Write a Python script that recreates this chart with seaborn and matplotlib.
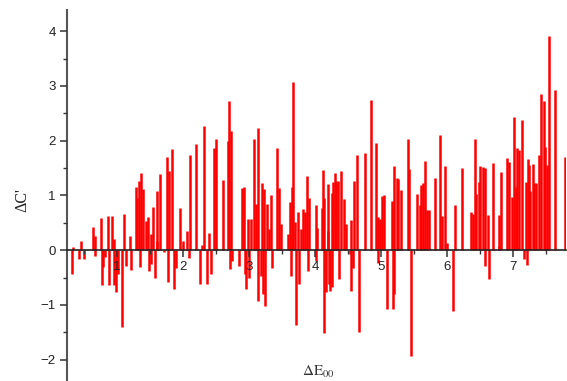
import matplotlib
matplotlib.use("Agg")
import matplotlib.pyplot as plt
import seaborn as sns
import numpy as np
import pandas as pd
from matplotlib.ticker import MultipleLocator

delta_e = [0.32, 0.33, 0.42, 0.46, 0.50, 0.63, 0.66, 0.67, 0.76, 0.77, 0.78, 0.82, 0.87, 0.88, 0.93, 0.95, 0.96, 0.98,
           1.01, 1.08, 1.10, 1.13, 1.20, 1.21, 1.28, 1.30, 1.33, 1.35, 1.37, 1.40, 1.44, 1.47, 1.48, 1.51, 1.52, 1.54,
           1.58, 1.60, 1.61, 1.65, 1.71, 1.76, 1.77, 1.79, 1.83, 1.86, 1.90, 1.96, 2.00, 2.06, 2.09, 2.11, 2.20, 2.26,
           2.29, 2.31, 2.37, 2.39, 2.43, 2.47, 2.50, 2.61, 2.68, 2.70, 2.71, 2.73, 2.74, 2.84, 2.90, 2.93, 2.94, 2.95,
           2.99, 3.00, 3.03, 3.08, 3.11, 3.13, 3.14, 3.18, 3.20, 3.21, 3.23, 3.24, 3.27, 3.30, 3.33, 3.34, 3.42, 3.45,
           3.48, 3.59, 3.62, 3.63, 3.65, 3.67, 3.70, 3.71, 3.74, 3.76, 3.79, 3.81, 3.84, 3.88, 3.89, 3.91, 4.01, 4.02,
           4.03, 4.10, 4.12, 4.13, 4.14, 4.17, 4.19, 4.20, 4.21, 4.23, 4.25, 4.26, 4.27, 4.30, 4.32, 4.34, 4.37, 4.40,
           4.44, 4.47, 4.53, 4.54, 4.55, 4.57, 4.59, 4.64, 4.66, 4.76, 4.84, 4.92, 4.95, 4.96, 4.99, 5.02, 5.05, 5.09,
           5.16, 5.18, 5.19, 5.20, 5.24, 5.26, 5.30, 5.41, 5.43, 5.45, 5.47, 5.54, 5.59, 5.61, 5.64, 5.67, 5.70, 5.73,
           5.81, 5.89, 5.92, 5.97, 6.00, 6.09, 6.12, 6.22, 6.36, 6.39, 6.42, 6.44, 6.48, 6.50, 6.54, 6.57, 6.58, 6.62,
           6.64, 6.70, 6.78, 6.79, 6.82, 6.91, 6.94, 6.98, 7.01, 7.04, 7.06, 7.09, 7.14, 7.17, 7.20, 7.21, 7.22, 7.24,
           7.26, 7.30, 7.32, 7.35, 7.40, 7.42, 7.47, 7.48, 7.52, 7.55, 7.64, 7.79]

delta_c = [-0.43, 0.05, -0.16, 0.17, -0.16, 0.43, -0.10, 0.26, 0.59, -0.64, -0.30, -0.13, 0.62, -0.64, 0.62, 0.20, -0.64, -0.77,
           -0.43, -1.41, 0.66, -0.28, 0.26, -0.36, 1.15, 0.96, 1.27, -0.30, 1.41, 1.12, 0.54, 0.61, -0.38, 0.29, -0.26, 0.78,
           -0.50, 0.17, 1.09, 1.40, -0.04, 1.70, -0.59, 1.45, 1.85, -0.71, -0.32, 0.77, 0.16, 0.35, -0.15, 1.74, 1.94, -0.62,
           0.10, 2.27, -0.62, 0.32, -0.44, 1.87, 2.03, 1.28, 1.99, 2.73, -0.35, 2.17, -0.20, -0.29, 1.13, 1.15, -0.44, -0.71,
           0.57, -0.50, 0.57, 2.03, 0.84, 2.23, -0.93, -0.47, 1.23, -0.80, 1.12, -1.02, 0.85, 0.38, 1.01, -0.32, 1.87, 1.13,
           0.48, 0.29, 0.88, -0.47, 1.15, 3.08, 0.51, -1.37, 0.70, -0.62, 0.38, 0.76, 0.69, 1.36, -0.38, 0.96, 0.82, -0.20,
           0.41, 0.77, 1.46, -1.51, 0.96, -0.77, 0.35, 1.21, -0.62, -0.74, 1.05, -0.68, 1.24, 1.41, 1.27, 1.27, -0.53, 1.44,
           0.93, 0.48, -0.07, 0.55, -0.74, -0.32, 1.27, 1.73, -1.49, 1.77, 2.75, 1.96, 0.60, -0.24, 0.57, 0.99, 1.00, -1.08,
           0.90, -1.08, -0.80, 1.53, 1.31, 1.30, 1.10, 2.04, 1.48, -1.93, 0.03, 1.02, 0.83, 1.20, 1.23, 1.63, 0.73, 0.73,
           1.32, 2.11, 0.62, 1.54, 0.14, -1.12, 0.82, 1.51, 0.69, 0.67, 2.03, 1.02, 1.24, 1.54, 1.52, 1.51, -0.29, 0.65,
           -0.53, 1.60, 0.08, 0.65, 1.43, 1.68, 1.62, 0.98, 2.43, 1.15, 1.86, 1.83, 2.37, -0.16, 1.24, -0.27, 1.66, 1.56,
           1.09, 1.57, 1.23, 1.23, 1.74, 2.85, 2.73, 1.89, 1.55, 3.92, 2.93, 1.71]

x_ticks = [1, 2, 3, 4, 5, 6, 7]
y_ticks = [-2, -1, 0, 1, 2, 3, 4]

sns.set_theme(style="white")
plt.rcParams['font.family'] = ['Liberation Sans', 'DejaVu Sans']
plt.rcParams['mathtext.fontset'] = 'stix'

df = pd.DataFrame({"dE": delta_e, "dC": delta_c})

fig = plt.figure(figsize=(5.67, 3.81), dpi=100)
ax = fig.add_axes([0.118, 0.0, 0.880, 0.974])
ax.set_axisbelow(False)
ax.vlines(df["dE"], 0, df["dC"], color="#ff0000", linewidth=1.8, zorder=1)

ax.set_xlim(0.24, 7.80)
ax.set_ylim(-2.39, 4.39)

for s in ["top", "right"]:
    ax.spines[s].set_visible(False)
ax.spines["bottom"].set_position(("data", 0))
ax.spines["bottom"].set_color("#222222")
ax.spines["bottom"].set_linewidth(1.2)
ax.spines["bottom"].set_zorder(3)
ax.spines["left"].set_color("#555555")
ax.spines["left"].set_linewidth(1.5)

ax.set_xticks(x_ticks)
ax.set_yticks(y_ticks)
ax.xaxis.set_minor_locator(MultipleLocator(0.5))
ax.yaxis.set_minor_locator(MultipleLocator(0.5))
ax.tick_params(axis="both", which="major", direction="out", length=5, width=1.1,
               color="#333333", labelsize=9.5, labelcolor="#222222", pad=3)
ax.tick_params(axis="both", which="minor", direction="out", length=3, width=1.0, color="#333333")
ax.tick_params(axis="x", which="both", bottom=True)
ax.tick_params(axis="y", which="both", left=True)
ax.grid(False)

fig.text(0.040, 0.475, "ΔC'", rotation=90, ha="center", va="center",
         fontsize=11.5, family=["Liberation Serif", "DejaVu Serif"], color="#222222")
fig.text(0.561, 0.024, r"$\Delta\mathrm{E}_{00}$", ha="center", va="center",
         fontsize=11, color="#333333")

fig.savefig("out.png", dpi=100)
